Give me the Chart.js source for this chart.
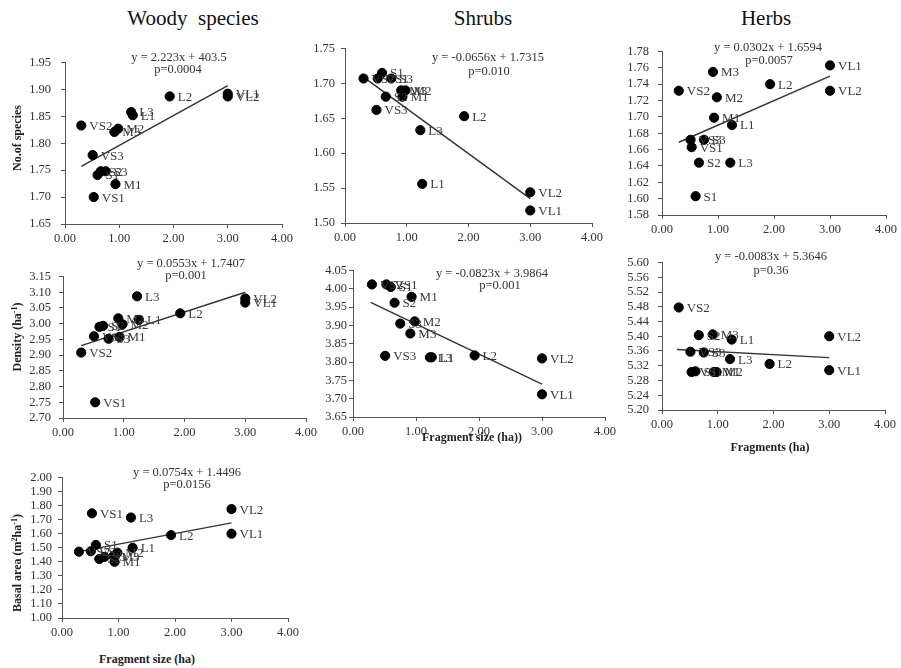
<!DOCTYPE html>
<html>
<head>
<meta charset="utf-8">
<script src="https://cdn.jsdelivr.net/npm/chart.js@4.4.1/dist/chart.umd.min.js"></script>
<style>
  html, body { margin: 0; padding: 0; background: #fff; }
  body { width: 901px; height: 668px; position: relative; overflow: hidden; font-family: "Liberation Serif", "Times New Roman", serif; color: #333; }
  canvas.panel { position: absolute; }
  .txt { position: absolute; transform: translate(-50%, -50%); white-space: pre; line-height: 1; }
  .title { font-size: 21px; color: #111; }
  .eq { font-size: 12.5px; color: #333; }
  .ax { font-size: 12px; font-weight: bold; color: #222; }
  .rot { transform: translate(-50%, -50%) rotate(-90deg); }
  sup { font-size: 8px; vertical-align: 4px; line-height: 0; }
</style>
</head>
<body>
<script>
// ---------- data ----------
const sites = ['VS1','VS2','VS3','S1','S2','S3','M1','M2','M3','L1','L2','L3','VL1','VL2'];
const fragmentSize = [0.53, 0.30, 0.51, 0.60, 0.66, 0.75, 0.93, 0.98, 0.91, 1.25, 1.93, 1.22, 3.00, 3.00];
const xTicks = [0, 1, 2, 3, 4];

const woodySpecies = [1.700, 1.833, 1.778, 1.741, 1.748, 1.748, 1.724, 1.827, 1.821, 1.852, 1.887, 1.858, 1.892, 1.887];
const shrubSpecies = [1.707, 1.707, 1.662, 1.715, 1.681, 1.707, 1.681, 1.690, 1.690, 1.556, 1.653, 1.633, 1.518, 1.544];
const herbSpecies  = [1.663, 1.732, 1.672, 1.603, 1.644, 1.672, 1.699, 1.724, 1.755, 1.690, 1.740, 1.644, 1.763, 1.732];
const woodyDensity = [2.750, 2.908, 2.960, 2.990, 2.993, 2.952, 2.958, 2.998, 3.017, 3.012, 3.033, 3.087, 3.067, 3.080];
const shrubDensity = [4.012, 4.012, 3.817, 4.005, 3.962, 3.905, 3.978, 3.911, 3.878, 3.813, 3.818, 3.813, 3.712, 3.810];
const herbDensity  = [5.303, 5.478, 5.358, 5.305, 5.403, 5.356, 5.303, 5.303, 5.405, 5.391, 5.325, 5.338, 5.308, 5.400];
const basalArea    = [1.745, 1.472, 1.475, 1.520, 1.420, 1.435, 1.400, 1.465, 1.440, 1.500, 1.590, 1.715, 1.600, 1.775];

// fitted trend line end points, as drawn in the figure [x0, y0, x1, y1]
const trendWoodySpecies = [0.30, 1.757, 3.00, 1.907];
const trendShrubSpecies = [0.30, 1.709, 3.00, 1.535];
const trendHerbSpecies  = [0.30, 1.669, 3.00, 1.750];
const trendWoodyDensity = [0.30, 2.930, 3.00, 3.100];
const trendShrubDensity = [0.28, 3.963, 3.00, 3.740];
const trendHerbDensity  = [0.27, 5.364, 3.00, 5.342];
const trendBasalArea    = [0.30, 1.472, 3.00, 1.677];

// y-axis ranges [min, max, step]
const yWoodySpecies = [1.65, 1.95, 0.05];
const yShrubSpecies = [1.50, 1.75, 0.05];
const yHerbSpecies  = [1.58, 1.78, 0.02];
const yWoodyDensity = [2.70, 3.15, 0.05];
const yShrubDensity = [3.65, 4.05, 0.05];
const yHerbDensity  = [5.20, 5.60, 0.04];
const yBasalArea    = [1.00, 2.00, 0.10];

// ---------- layout ----------
const panels = [
  { vals: woodySpecies, trend: trendWoodySpecies, yr: yWoodySpecies, box: [65, 282, 53, 224], gap: 10 },
  { vals: shrubSpecies, trend: trendShrubSpecies, yr: yShrubSpecies, box: [345, 592, 43, 223], gap: 6 },
  { vals: herbSpecies,  trend: trendHerbSpecies,  yr: yHerbSpecies,  box: [662, 886, 43, 215], gap: 9 },
  { vals: woodyDensity, trend: trendWoodyDensity, yr: yWoodyDensity, box: [63, 306, 269, 418], gap: 8 },
  { vals: shrubDensity, trend: trendShrubDensity, yr: yShrubDensity, box: [353, 605, 269, 417], gap: 2 },
  { vals: herbDensity,  trend: trendHerbDensity,  yr: yHerbDensity,  box: [662, 885, 254, 410], gap: 9 },
  { vals: basalArea,    trend: trendBasalArea,    yr: yBasalArea,    box: [62, 288, 472, 618], gap: 6 }
];

const YW = 50, XH = 26, PT = 8, PR = 18;
const FONT = '"Liberation Serif", "Times New Roman", serif';

const pointLabels = {
  id: 'pointLabels',
  afterDatasetsDraw(chart) {
    const ctx = chart.ctx;
    const meta = chart.getDatasetMeta(0);
    ctx.save();
    ctx.font = '13px ' + FONT;
    ctx.fillStyle = '#3a3a3a';
    ctx.textAlign = 'left';
    ctx.textBaseline = 'middle';
    meta.data.forEach((pt, i) => {
      ctx.fillText(sites[i], pt.x + 8, pt.y + 1);
    });
    ctx.restore();
  }
};

panels.forEach((p) => {
  const [L, R, T, B] = p.box;
  const cv = document.createElement('canvas');
  cv.className = 'panel';
  const W = R - L + YW + PR;
  const H = B - T + PT + XH;
  cv.style.left = (L - YW) + 'px';
  cv.style.top = (T - PT) + 'px';
  cv.style.width = W + 'px';
  cv.style.height = H + 'px';
  cv.width = W; cv.height = H;
  document.body.appendChild(cv);

  const pts = fragmentSize.map((x, i) => ({ x: x, y: p.vals[i] }));
  const line = [{ x: p.trend[0], y: p.trend[1] }, { x: p.trend[2], y: p.trend[3] }];
  const [ymin, ymax, ystep] = p.yr;

  new Chart(cv, {
    type: 'scatter',
    data: {
      datasets: [
        { data: pts, backgroundColor: '#000', borderColor: '#000', pointRadius: 4.6, pointHoverRadius: 4.6, order: 1 },
        { data: line, showLine: true, borderColor: '#333', borderWidth: 1.4, pointRadius: 0, fill: false, order: 2 }
      ]
    },
    options: {
      responsive: false,
      animation: false,
      events: [],
      layout: { padding: { top: PT, right: PR, left: 0, bottom: 0 } },
      plugins: { legend: { display: false }, tooltip: { enabled: false }, title: { display: false } },
      scales: {
        x: {
          type: 'linear', min: 0, max: 4,
          afterBuildTicks: (s) => { s.ticks = xTicks.map(v => ({ value: v })); },
          afterFit: (s) => { s.height = XH; },
          grid: { drawOnChartArea: false, drawTicks: true, tickLength: 4, color: '#555' },
          border: { color: '#555', width: 1 },
          ticks: { autoSkip: false, padding: 3, color: '#333', font: { family: FONT, size: 12.5 }, maxRotation: 0, callback: (v) => Number(v).toFixed(2) }
        },
        y: {
          type: 'linear', min: ymin, max: ymax,
          afterBuildTicks: (s) => {
            const n = Math.round((ymax - ymin) / ystep);
            const t = [];
            for (let k = 0; k <= n; k++) t.push({ value: +(ymin + k * ystep).toFixed(4) });
            s.ticks = t;
          },
          afterFit: (s) => { s.width = YW; },
          grid: { drawOnChartArea: false, drawTicks: true, tickLength: 4, color: '#555' },
          border: { color: '#555', width: 1 },
          ticks: { autoSkip: false, padding: p.gap, color: '#333', font: { family: FONT, size: 12.5 }, callback: (v) => Number(v).toFixed(2) }
        }
      }
    },
    plugins: [pointLabels]
  });
});

// ---------- texts ----------
const texts = [
  ['title', 'Woody  species', 193, 18],
  ['title', 'Shrubs', 483, 18],
  ['title', 'Herbs', 766, 18],
  ['eq', 'y = 2.223x + 403.5', 179, 57], ['eq', 'p=0.0004', 178, 69],
  ['eq', 'y = -0.0656x + 1.7315', 488, 57], ['eq', 'p=0.010', 489, 71],
  ['eq', 'y = 0.0302x + 1.6594', 768, 47], ['eq', 'p=0.0057', 769, 60],
  ['eq', 'y = 0.0553x + 1.7407', 191, 263], ['eq', 'p=0.001', 186, 275],
  ['eq', 'y = -0.0823x + 3.9864', 492, 273], ['eq', 'p=0.001', 500, 285],
  ['eq', 'y = -0.0083x + 5.3646', 771, 256], ['eq', 'p=0.36', 771, 270],
  ['eq', 'y = 0.0754x + 1.4496', 187, 472], ['eq', 'p=0.0156', 187, 484],
  ['ax', 'Fragment size (ha))', 472, 437],
  ['ax', 'Fragments (ha)', 770, 447],
  ['ax', 'Fragment size (ha)', 147, 659]
];
texts.forEach(([cls, t, x, y]) => {
  const d = document.createElement('div');
  d.className = 'txt ' + cls;
  d.textContent = t;
  d.style.left = x + 'px';
  d.style.top = y + 'px';
  document.body.appendChild(d);
});
const rot = [
  ['No.of species', 17, 138],
  ['Density (ha<sup>-1</sup>)', 17, 337],
  ['Basal area (m<sup>2</sup>ha<sup>-1</sup>)', 17, 563]
];
rot.forEach(([h, x, y]) => {
  const d = document.createElement('div');
  d.className = 'txt ax rot';
  d.innerHTML = h;
  d.style.left = x + 'px';
  d.style.top = y + 'px';
  document.body.appendChild(d);
});
</script>
</body>
</html>
